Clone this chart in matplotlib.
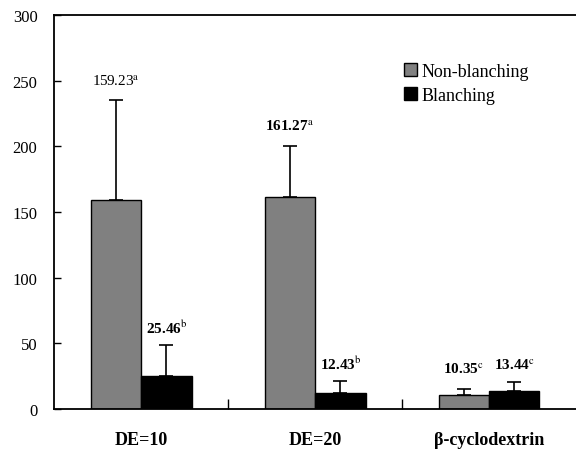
import numpy as np
import matplotlib
matplotlib.use("Agg")
from matplotlib import pyplot as plt

# data
groups = ["DE=10", "DE=20", "β-cyclodextrin"]
non_blanching = [159.23, 161.27, 10.35]
non_blanching_err = [76, 39, 5]
blanching = [25.46, 12.43, 13.44]
blanching_err = [23, 8.5, 7]
non_letters = ["a", "a", "c"]
bl_letters = ["b", "b", "c"]
non_weights = ["normal", "bold", "bold"]

plt.rcParams['font.family'] = ['Liberation Serif', 'DejaVu Serif']
plt.rcParams['mathtext.fontset'] = 'stix'

fig = plt.figure(figsize=(5.76, 4.52), dpi=100)
ax = fig.add_axes([0.094, 0.093, 0.906, 0.872])

x = np.arange(len(groups))
w = 0.29

ax.bar(x - w / 2, non_blanching, w, color='#808080', edgecolor='black',
       linewidth=1, label='Non-blanching',
       yerr=[np.zeros(3), non_blanching_err], capsize=5,
       error_kw=dict(elinewidth=1.2, capthick=1.2, ecolor='black'))
ax.bar(x + w / 2, blanching, w, color='black', edgecolor='black',
       linewidth=1, label='Blanching',
       yerr=[np.zeros(3), blanching_err], capsize=5,
       error_kw=dict(elinewidth=1.2, capthick=1.2, ecolor='black'))

for xi, v, e, l, fw in zip(x - w / 2, non_blanching, non_blanching_err,
                           non_letters, non_weights):
    ax.annotate(f"{v:.2f}$^{{\\rm {l}}}$", (xi, v + e), xytext=(0, 9),
                textcoords='offset points', ha='center', va='bottom',
                fontsize=11, fontweight=fw)
for xi, v, e, l in zip(x + w / 2, blanching, blanching_err, bl_letters):
    ax.annotate(f"{v:.2f}$^{{\\rm {l}}}$", (xi, v + e), xytext=(0, 7),
                textcoords='offset points', ha='center', va='bottom',
                fontsize=11, fontweight='bold')

ax.set_xlim(-0.5, 2.5)
ax.set_ylim(0, 300)
ax.set_yticks(range(0, 301, 50))
ax.tick_params(axis='y', direction='in', length=5, width=1, labelsize=12, pad=12)
ax.set_xticks(x)
ax.set_xticklabels(groups, fontweight='bold', fontsize=13)
ax.tick_params(axis='x', length=0, pad=16)
ax.set_xticks([0.5, 1.5], minor=True)
ax.tick_params(axis='x', which='minor', direction='in', length=7, width=1)

ax.spines['right'].set_visible(False)
for s in ['left', 'top', 'bottom']:
    ax.spines[s].set_linewidth(1.3)

ax.legend(loc='upper left', bbox_to_anchor=(0.64, 0.92), frameon=False,
          fontsize=13, handlelength=0.7, handleheight=0.7, handletextpad=0.25,
          labelspacing=0.4)

fig.savefig("out.png", dpi=100)
